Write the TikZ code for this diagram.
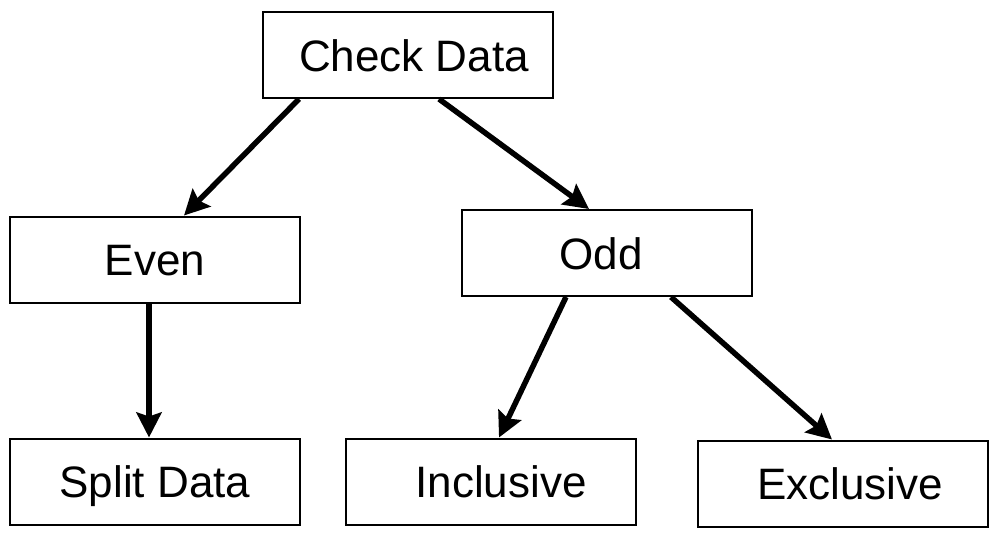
\documentclass[tikz,border=0pt]{standalone}
\usepackage{fontspec}
\setmainfont{Liberation Sans}
\usetikzlibrary{arrows.meta}

\tikzset{
  databox/.style={draw, line width=2pt, minimum width=290pt, minimum height=86pt,
    inner sep=0pt, text height=32pt, text depth=0pt,
    font=\fontsize{44}{53}\selectfont},
  flowarrow/.style={line width=5.5pt, -{Stealth[length=25pt,width=25pt,inset=4pt]}}
}

\begin{document}
\begin{tikzpicture}[x=1pt,y=1pt,yscale=-1,xscale=1]
\useasboundingbox (0,0) rectangle (998,533);

% Boxes
\draw (408,55) node [databox] (check) {\hspace*{12pt}Check Data};
\draw (155,259.5) node [databox] (even) {Even};
\draw (607,253) node [databox] (odd) {\hspace*{-12pt}Odd};
\draw (155,481.5) node [databox] (split) {Split Data};
\draw (491,481.5) node [databox] (incl) {\hspace*{20pt}Inclusive};
\draw (843,483.5) node [databox] (excl) {\hspace*{14pt}Exclusive};

% Arrows
\draw [flowarrow] ([xshift=37pt]check.south west) -- ([xshift=175pt]even.north west);
\draw [flowarrow] ([xshift=177pt]check.south west) -- ([xshift=128pt]odd.north west);
\draw [flowarrow] ([xshift=140pt]even.south west) -- ([xshift=140pt]split.north west);
\draw [flowarrow] ([xshift=105pt]odd.south west) -- ([xshift=154pt]incl.north west);
\draw [flowarrow] ([xshift=210pt]odd.south west) -- ([xshift=135pt]excl.north west);

\end{tikzpicture}
\end{document}
